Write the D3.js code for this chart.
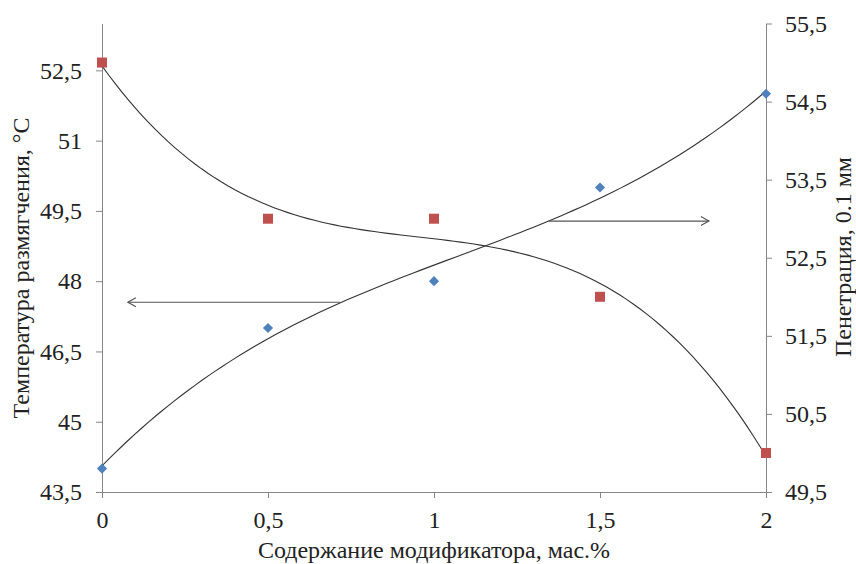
<!DOCTYPE html>
<html>

<head>
  <meta charset="utf-8">
  <style>
    body {
      margin: 0;
      background: #fff;
    }
  </style>
</head>

<body>
  <div id="chart"></div>
  <script src="https://d3js.org/d3.v7.min.js"></script>
  <script>
    // data
    var content = [0, 0.5, 1, 1.5, 2];
    var temperature = [44, 47, 48, 50, 52];      // left axis, °C
    var penetration = [55, 53, 53, 52, 50];      // right axis, 0.1 mm

    var xTicks = [0, 0.5, 1, 1.5, 2];
    var leftTicks = [43.5, 45, 46.5, 48, 49.5, 51, 52.5];
    var rightTicks = [49.5, 50.5, 51.5, 52.5, 53.5, 54.5, 55.5];

    var width = 856,
      height = 564;
    var margin = {
      top: 23.5,
      right: 90,
      bottom: 72,
      left: 102
    };
    var font = "'Liberation Serif'";
    var fontSize = "24px";
    var axisColor = "#868686";

    var svg = d3.select("#chart")
      .append("svg")
      .attr("width", width)
      .attr("height", height);

    var x = d3.scaleLinear()
      .domain([0, 2])
      .range([margin.left, width - margin.right]);

    var yL = d3.scaleLinear()
      .domain([43.5, 53.5])
      .range([height - margin.bottom, margin.top]);

    var yR = d3.scaleLinear()
      .domain([49.5, 55.5])
      .range([height - margin.bottom, margin.top]);

    var fmt = function (d) {
      return String(d).replace(".", ",");
    };

    function styleAxis(g) {
      g.attr("font-family", null);
      g.selectAll("path, line").attr("stroke", axisColor);
      g.selectAll("text")
        .style("font-family", font)
        .style("font-size", fontSize)
        .attr("fill", "#222");
    }

    // axes
    svg.append("g")
      .attr("transform", "translate(0," + (height - margin.bottom) + ")")
      .call(d3.axisBottom(x).tickValues(xTicks).tickFormat(fmt).tickSize(6).tickSizeOuter(0).tickPadding(13))
      .call(styleAxis);

    svg.append("g")
      .attr("transform", "translate(" + margin.left + ",0)")
      .call(d3.axisLeft(yL).tickValues(leftTicks).tickFormat(fmt).tickSize(6).tickSizeOuter(0).tickPadding(14))
      .call(styleAxis);

    svg.append("g")
      .attr("transform", "translate(" + (width - margin.right) + ",0)")
      .call(d3.axisRight(yR).tickValues(rightTicks).tickFormat(fmt).tickSize(6).tickSizeOuter(0).tickPadding(13))
      .call(styleAxis);

    // polynomial (order 3) trend lines, least squares like the spreadsheet does
    function polyfit(xs, ys, order) {
      var n = order + 1;
      var A = [];
      for (var i = 0; i < n; i++) {
        A.push([]);
        for (var j = 0; j <= n; j++) A[i].push(0);
      }
      xs.forEach(function (xv, k) {
        for (var i = 0; i < n; i++) {
          for (var j = 0; j < n; j++) A[i][j] += Math.pow(xv, i + j);
          A[i][n] += Math.pow(xv, i) * ys[k];
        }
      });
      for (var c = 0; c < n; c++) {
        var p = c;
        for (var r = c + 1; r < n; r++)
          if (Math.abs(A[r][c]) > Math.abs(A[p][c])) p = r;
        var tmp = A[c]; A[c] = A[p]; A[p] = tmp;
        for (var r2 = 0; r2 < n; r2++) {
          if (r2 === c) continue;
          var f = A[r2][c] / A[c][c];
          for (var k2 = c; k2 <= n; k2++) A[r2][k2] -= f * A[c][k2];
        }
      }
      var coef = [];
      for (var q = 0; q < n; q++) coef.push(A[q][n] / A[q][q]);
      return function (xv) {
        var s = 0;
        for (var i = 0; i < n; i++) s += coef[i] * Math.pow(xv, i);
        return s;
      };
    }

    var fitT = polyfit(content, temperature, 3);
    var fitP = polyfit(content, penetration, 3);
    var samples = d3.range(0, 2.0001, 0.02);

    svg.append("path")
      .datum(samples)
      .attr("fill", "none")
      .attr("stroke", "#333")
      .attr("stroke-width", 1.1)
      .attr("d", d3.line().x(function (d) { return x(d); }).y(function (d) { return yL(fitT(d)); }));

    svg.append("path")
      .datum(samples)
      .attr("fill", "none")
      .attr("stroke", "#333")
      .attr("stroke-width", 1.1)
      .attr("d", d3.line().x(function (d) { return x(d); }).y(function (d) { return yR(fitP(d)); }));

    // markers
    svg.selectAll(".diamond")
      .data(content)
      .enter()
      .append("path")
      .attr("class", "diamond")
      .attr("fill", "#4f81bd")
      .attr("transform", function (d, i) {
        return "translate(" + x(d) + "," + yL(temperature[i]) + ") rotate(45)";
      })
      .attr("d", "M-3.6,-3.6H3.6V3.6H-3.6Z");

    svg.selectAll(".square")
      .data(content)
      .enter()
      .append("rect")
      .attr("class", "square")
      .attr("fill", "#c0504d")
      .attr("x", function (d) { return x(d) - 5; })
      .attr("y", function (d, i) { return yR(penetration[i]) - 5; })
      .attr("width", 10)
      .attr("height", 10);

    // arrows pointing at the axis of each curve
    var arrowLeft = { from: 0.717, to: 0.078, value: 47.55 };   // left axis
    var arrowRight = { from: 1.346, to: 1.828, value: 52.97 };  // right axis

    function arrow(a, yScale) {
      var y = yScale(a.value),
        x1 = x(a.from),
        x2 = x(a.to),
        dir = x2 > x1 ? 1 : -1;
      svg.append("line")
        .attr("x1", x1).attr("y1", y)
        .attr("x2", x2).attr("y2", y)
        .attr("stroke", "#555")
        .attr("stroke-width", 1.2);
      svg.append("path")
        .attr("fill", "none")
        .attr("stroke", "#555")
        .attr("stroke-width", 1.2)
        .attr("d", "M" + (x2 - dir * 8) + "," + (y - 4.5) + "L" + x2 + "," + y + "L" + (x2 - dir * 8) + "," + (y + 4.5));
    }
    arrow(arrowLeft, yL);
    arrow(arrowRight, yR);

    // titles
    function title(t) {
      return t.style("font-family", font)
        .style("font-size", fontSize)
        .attr("fill", "#222")
        .attr("text-anchor", "middle");
    }

    svg.append("text")
      .attr("x", x(1))
      .attr("y", 558)
      .call(title)
      .text("Содержание модификатора, мас.%");

    svg.append("text")
      .attr("transform", "translate(29,268) rotate(-90)")
      .call(title)
      .text("Температура размягчения, °С");

    svg.append("text")
      .attr("transform", "translate(851,257) rotate(-90)")
      .call(title)
      .text("Пенетрация, 0.1 мм");
  </script>
</body>

</html>
